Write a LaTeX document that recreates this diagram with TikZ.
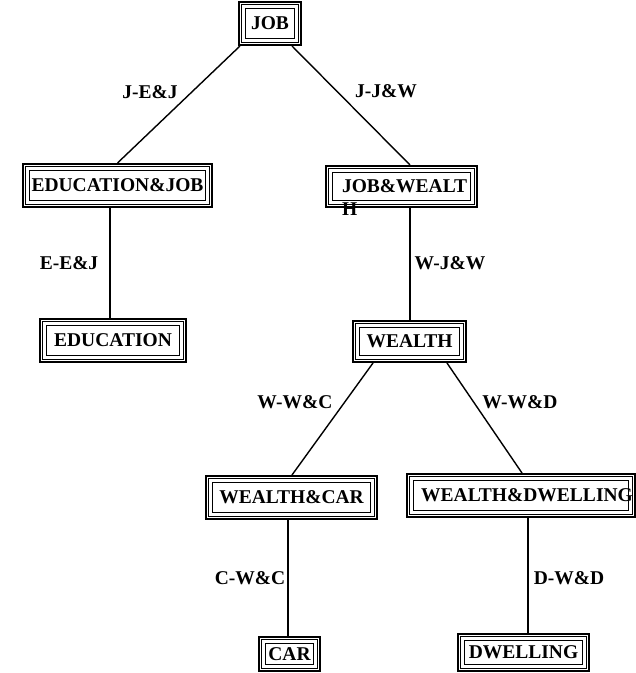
\documentclass[tikz,border=0pt]{standalone}
\usepackage{fontspec}
\setmainfont{Liberation Serif}
\begin{document}
\begin{tikzpicture}[x=1pt,y=1pt,
  every node/.style={font=\fontsize{19.5}{23}\selectfont\bfseries, text height=13pt, text depth=0pt},
  frame/.style={draw, line width=1.8pt, inner sep=0pt, outer sep=0.9pt},
  lbl/.style={inner sep=0pt},
  link/.style={line width=1.4pt}]
\useasboundingbox (0,0) rectangle (636,673);

% outer frames of the clique boxes (width x height given as outer size)
\node[frame, minimum width=62.2pt, minimum height=43.2pt] (job)    at (270,649.5)  {JOB};
\node[frame, minimum width=189.2pt, minimum height=43.2pt] (edj)   at (117.5,487.5) {EDUCATION\&JOB};
\node[frame, minimum width=151.2pt, minimum height=41.2pt] (jw)    at (401.5,486.5)
  {\hspace*{6pt}\smash{\begin{tabular}[t]{@{}l@{}}JOB\&WEALT\\H\end{tabular}}};
\node[frame, minimum width=146.2pt, minimum height=43.2pt] (edu)   at (113,332.5)   {EDUCATION};
\node[frame, minimum width=113.2pt, minimum height=41.2pt] (wealth) at (409.5,331.5) {WEALTH};
\node[frame, minimum width=171.2pt, minimum height=43.2pt] (wcar)  at (291.5,175.5) {WEALTH\&CAR};
\node[frame, minimum width=228.2pt, minimum height=43.2pt] (wdw)   at (521,177.5)
  {\hspace*{12pt}WEALTH\&DWELLING};
\node[frame, minimum width=61.2pt, minimum height=34.2pt] (car)    at (289.5,19)    {CAR};
\node[frame, minimum width=131.2pt, minimum height=37.2pt] (dw)    at (523.5,20.5)  {DWELLING};

% middle and inner rules of each triple frame
\foreach \n in {job,edj,jw,edu,wealth,wcar,wdw,car,dw}{
  \draw[line width=0.9pt] ([shift={(3.5pt,3.5pt)}]\n.south west) rectangle ([shift={(-3.5pt,-3.5pt)}]\n.north east);
  \draw[line width=1.8pt] ([shift={(7.5pt,7.5pt)}]\n.south west) rectangle ([shift={(-7.5pt,-7.5pt)}]\n.north east);
}

% separator links
\draw[link] ([xshift=2pt]job.south west) -- (edj.north);
\draw[link] ([xshift=22pt]job.south) -- ([xshift=8.5pt]jw.north);
\draw[link] ([xshift=-7.5pt]edj.south) -- ([xshift=-3pt]edu.north);
\draw[link] ([xshift=8.5pt]jw.south) -- ([xshift=0.5pt]wealth.north);
\draw[link] ([xshift=-36.5pt]wealth.south) -- ([xshift=0.5pt]wcar.north);
\draw[link] ([xshift=37.5pt]wealth.south) -- ([xshift=1pt]wdw.north);
\draw[link] ([xshift=-3.5pt]wcar.south) -- ([xshift=-1.5pt]car.north);
\draw[link] ([xshift=7pt]wdw.south) -- ([xshift=4.5pt]dw.north);

% separator labels
\node[lbl] (sje)  at (150,581) {J-E\&J};
\node[lbl] (sjw)  at (386,582) {J-J\&W};
\node[lbl] (see)  at (69,410)  {E-E\&J};
\node[lbl] (swj)  at (450,410) {W-J\&W};
\node[lbl] (swc)  at (295,271) {W-W\&C};
\node[lbl] (swd)  at (520,271) {W-W\&D};
\node[lbl] (scw)  at (250,95)  {C-W\&C};
\node[lbl] (sdw)  at (569,95)  {D-W\&D};
\end{tikzpicture}
\end{document}
